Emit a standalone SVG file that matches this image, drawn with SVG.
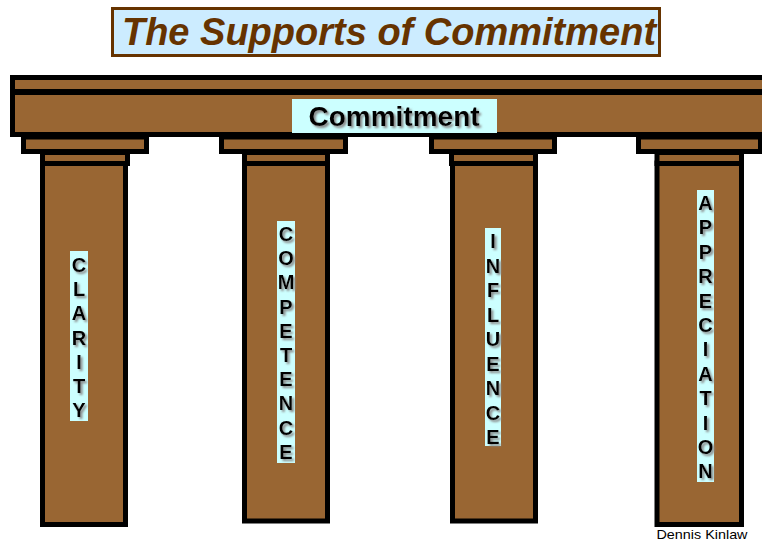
<svg xmlns="http://www.w3.org/2000/svg" width="762" height="542" viewBox="0 0 762 542">
<defs>
<filter id="sh" x="-20%" y="-20%" width="160%" height="160%">
<feGaussianBlur in="SourceAlpha" stdDeviation="1"/>
<feOffset dx="1.5" dy="1.5" result="b"/>
<feFlood flood-color="#888888"/>
<feComposite in2="b" operator="in"/>
<feMerge><feMergeNode/><feMergeNode in="SourceGraphic"/></feMerge>
</filter>
</defs>
<style>
.wood{fill:#996633;stroke:#000;stroke-width:5}
.lbl{fill:#CCFFFF}
.vt{font-family:"Liberation Sans",Arial,sans-serif;font-weight:bold;font-size:20px;fill:#000;text-anchor:middle}
</style>
<rect width="762" height="542" fill="#fff"/>
<g id="title">
<rect x="112.5" y="8.5" width="547" height="47" fill="#CCECFF" stroke="#663300" stroke-width="3"/>
<text x="389" y="45" font-family="Liberation Sans,Arial,sans-serif" font-weight="bold" font-style="italic" font-size="38" fill="#663300" text-anchor="middle">The Supports of Commitment</text>
</g>
<g id="pillar-clarity">
<rect class="wood" x="42.5" y="163" width="83" height="361.5"/>
<rect class="wood" x="42.5" y="152.5" width="85" height="11"/>
<rect class="wood" x="23.5" y="137" width="123" height="14.5"/>
<rect class="lbl" x="70" y="251" width="18" height="170"/>
<text class="vt" filter="url(#sh)" y="272"><tspan x="79">C</tspan><tspan x="79" dy="24.2">L</tspan><tspan x="79" dy="24.2">A</tspan><tspan x="79" dy="24.2">R</tspan><tspan x="79" dy="24.2">I</tspan><tspan x="79" dy="24.2">T</tspan><tspan x="79" dy="24.2">Y</tspan></text>
</g>
<g id="pillar-competence">
<rect class="wood" x="244.5" y="163" width="83" height="358"/>
<rect class="wood" x="244.5" y="152.5" width="83" height="11"/>
<rect class="wood" x="221.5" y="137" width="124" height="14.5"/>
<rect class="lbl" x="277" y="221" width="18" height="242"/>
<text class="vt" filter="url(#sh)" y="241"><tspan x="286">C</tspan><tspan x="286" dy="24.2">O</tspan><tspan x="286" dy="24.2">M</tspan><tspan x="286" dy="24.2">P</tspan><tspan x="286" dy="24.2">E</tspan><tspan x="286" dy="24.2">T</tspan><tspan x="286" dy="24.2">E</tspan><tspan x="286" dy="24.2">N</tspan><tspan x="286" dy="24.2">C</tspan><tspan x="286" dy="24.2">E</tspan></text>
</g>
<g id="pillar-influence">
<rect class="wood" x="452.5" y="163" width="83" height="358"/>
<rect class="wood" x="451.5" y="152.5" width="84" height="11"/>
<rect class="wood" x="431.5" y="137" width="123" height="14.5"/>
<rect class="lbl" x="485" y="228" width="16" height="218"/>
<text class="vt" filter="url(#sh)" y="248"><tspan x="493">I</tspan><tspan x="493" dy="24.5">N</tspan><tspan x="493" dy="24.5">F</tspan><tspan x="493" dy="24.5">L</tspan><tspan x="493" dy="24.5">U</tspan><tspan x="493" dy="24.5">E</tspan><tspan x="493" dy="24.5">N</tspan><tspan x="493" dy="24.5">C</tspan><tspan x="493" dy="24.5">E</tspan></text>
</g>
<g id="pillar-appreciation">
<rect class="wood" x="657" y="163" width="84.5" height="361.5"/>
<rect class="wood" x="657" y="152.5" width="84.5" height="11"/>
<rect class="wood" x="638.5" y="137" width="122" height="14.5"/>
<rect class="lbl" x="697" y="190" width="17" height="292"/>
<text class="vt" filter="url(#sh)" y="210"><tspan x="705.5">A</tspan><tspan x="705.5" dy="24.4">P</tspan><tspan x="705.5" dy="24.4">P</tspan><tspan x="705.5" dy="24.4">R</tspan><tspan x="705.5" dy="24.4">E</tspan><tspan x="705.5" dy="24.4">C</tspan><tspan x="705.5" dy="24.4">I</tspan><tspan x="705.5" dy="24.4">A</tspan><tspan x="705.5" dy="24.4">T</tspan><tspan x="705.5" dy="24.4">I</tspan><tspan x="705.5" dy="24.4">O</tspan><tspan x="705.5" dy="24.4">N</tspan></text>
</g>
<g id="beam">
<rect class="wood" x="12.5" y="77.5" width="760" height="57"/>
<line x1="10" y1="92" x2="762" y2="92" stroke="#000" stroke-width="6"/>
<rect class="lbl" x="292" y="99" width="205" height="34"/>
<text x="394" y="126" font-family="Liberation Sans,Arial,sans-serif" font-weight="bold" font-size="28" text-anchor="middle" filter="url(#sh)">Commitment</text>
</g>
<g id="credit">
<text x="702" y="539" font-family="Liberation Sans,Arial,sans-serif" font-size="13.5" text-anchor="middle" textLength="91" lengthAdjust="spacingAndGlyphs">Dennis Kinlaw</text>
</g>
<g id="connectors"/>
</svg>
